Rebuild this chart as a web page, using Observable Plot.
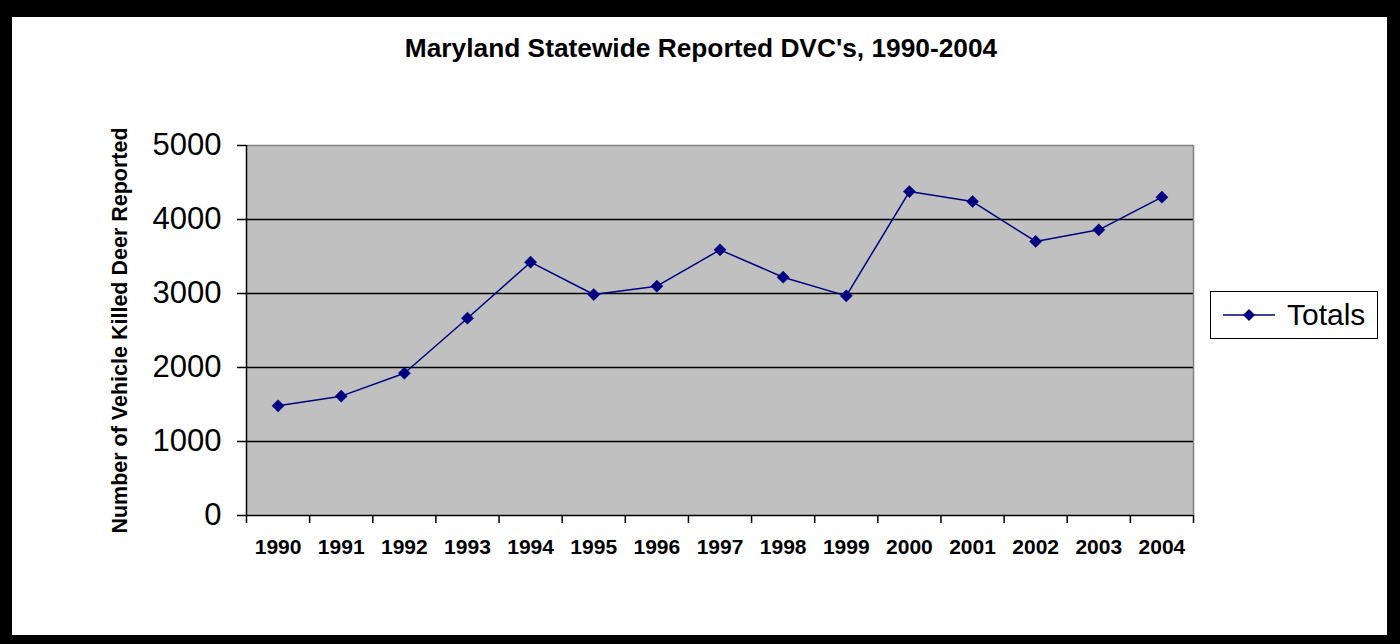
<!DOCTYPE html>
<html>
<head>
<meta charset="utf-8">
<script src="https://cdn.jsdelivr.net/npm/d3@7"></script>
<script src="https://cdn.jsdelivr.net/npm/@observablehq/plot@0.6"></script>
<style>
  html, body { margin: 0; padding: 0; background: #000; }
  #wrap { position: relative; width: 1400px; height: 644px; background: #000; overflow: hidden; }
  #inner { position: absolute; left: 12px; top: 17px; width: 1375px; height: 618px; background: #fff; }
  #chart { position: absolute; left: 0; top: 0; }
  #title { position: absolute; left: 0; width: 1402px; top: 33px; text-align: center; line-height: 30px;
           font-family: "Liberation Sans", Arial, sans-serif; font-weight: bold; font-size: 26.3px; color: #000; }
  #legend { position: absolute; left: 1210px; top: 291px; width: 168px; height: 48px;
            border: 1.5px solid #000; background: #fff; box-sizing: border-box;
            font-family: "Liberation Sans", Arial, sans-serif; font-size: 30px; color: #000; }
  #legend svg { position: absolute; left: 10px; top: 12px; }
  #legend span { position: absolute; left: 76px; top: 6px; }
</style>
</head>
<body>
<div id="wrap">
  <div id="inner"></div>
  <div id="title">Maryland Statewide Reported DVC's, 1990-2004</div>
  <div id="chart"></div>
  <div id="legend">
    <svg width="56" height="22"><line x1="2" y1="11" x2="54" y2="11" stroke="#000080" stroke-width="1.5"/><path d="M28,5 L34,11 L28,17 L22,11 Z" fill="#000080"/></svg>
    <span>Totals</span>
  </div>
</div>
<script>
const years = [1990, 1991, 1992, 1993, 1994, 1995, 1996, 1997, 1998, 1999, 2000, 2001, 2002, 2003, 2004];
const totals = [1482, 1613, 1923, 2666, 3423, 2986, 3099, 3590, 3220, 2968, 4378, 4243, 3703, 3860, 4302];
const yTicks = [0, 1000, 2000, 3000, 4000, 5000];
const gridValues = [1000, 2000, 3000, 4000];
const yLabel = "Number of Vehicle Killed Deer Reported";
const seriesName = "Totals";

const data = years.map((yr, i) => ({year: yr, value: totals[i]}));
const lo = years[0] - 0.5, hi = years[years.length - 1] + 0.5;
const bounds = years.map(y => y - 0.5).concat([hi]);

const chart = Plot.plot({
  width: 1400,
  height: 644,
  marginLeft: 246,
  marginRight: 207,
  marginTop: 145,
  marginBottom: 129,
  style: {background: "transparent", fontFamily: "'Liberation Sans', Arial, sans-serif", color: "#000"},
  x: {domain: [lo, hi], type: "linear"},
  y: {domain: [0, 5000]},
  marks: [
    Plot.frame({fill: "#c0c0c0", stroke: null}),
    Plot.ruleY(gridValues, {stroke: "#000", strokeWidth: 1.5}),
    Plot.ruleY([5000], {stroke: "#808080", strokeWidth: 1.5}),
    Plot.ruleX([hi], {stroke: "#808080", strokeWidth: 1.5}),
    Plot.ruleX([lo], {stroke: "#000", strokeWidth: 1.5}),
    Plot.ruleY([0], {stroke: "#000", strokeWidth: 1.5}),
    Plot.axisY({ticks: yTicks, tickSize: 9, tickPadding: 16, fontSize: 31, tickFormat: d => String(d), label: null, strokeWidth: 1.5}),
    Plot.axisX({ticks: bounds, tickSize: 8, tickFormat: () => "", label: null, strokeWidth: 1.5}),
    Plot.axisX({ticks: years, tickSize: 0, tickPadding: 24, fontSize: 21, fontWeight: "bold", tickFormat: d => String(d), label: null}),
    Plot.text([yLabel], {frameAnchor: "left", textAnchor: "middle", rotate: -90, dx: -126, dy: 0, fontSize: 21.5, fontWeight: "bold", fill: "#000"}),
    Plot.line(data, {x: "year", y: "value", stroke: "#000080", strokeWidth: 1.5}),
    Plot.dot(data, {x: "year", y: "value", symbol: "diamond2", r: 5.5, fill: "#000080", stroke: "#000080", strokeWidth: 0.5})
  ]
});
document.getElementById("chart").appendChild(chart);
</script>
</body>
</html>
